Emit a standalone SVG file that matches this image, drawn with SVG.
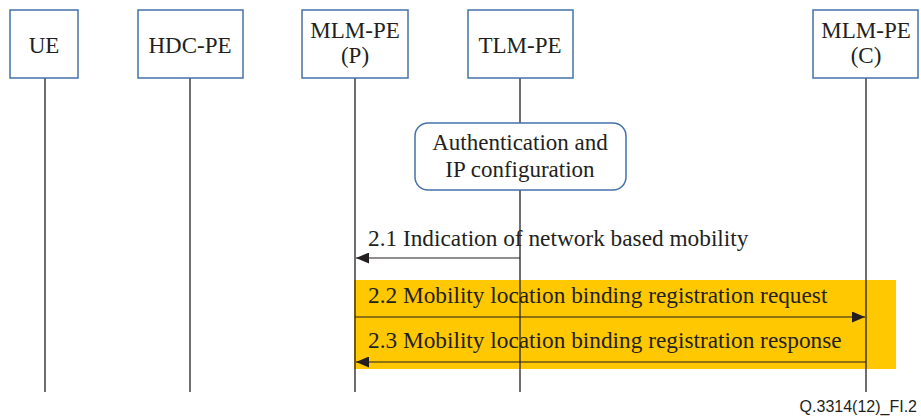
<svg xmlns="http://www.w3.org/2000/svg" width="921" height="417" viewBox="0 0 921 417">
<style>
.box{fill:#fff;stroke:#4672a8;stroke-width:1.5}
.t{font-family:'Liberation Serif','Times New Roman','DejaVu Serif',serif;font-size:23px;fill:#231f20}
.m{font-size:23.3px}
.c{text-anchor:middle}
.life{stroke:#231f20;stroke-width:1.3;fill:none}
.msg{stroke:#231f20;stroke-width:1.2;fill:none}
</style>
<defs>
<marker id="ah" viewBox="0 0 13 11" refX="13" refY="5.5" markerWidth="13" markerHeight="11" markerUnits="userSpaceOnUse" orient="auto">
<path d="M0,0 L13,5.5 L0,11 z" fill="#231f20"/>
</marker>
</defs>
<rect x="354" y="280" width="542" height="89" fill="#ffc800"/>
<g id="lifelines">
<line class="life" x1="45" y1="78" x2="45" y2="392"/>
<line class="life" x1="190" y1="78" x2="190" y2="392"/>
<line class="life" x1="355" y1="78" x2="355" y2="392"/>
<line class="life" x1="520" y1="78" x2="520" y2="392"/>
<line class="life" x1="866" y1="78" x2="866" y2="392"/>
</g>
<g id="ue"><rect class="box" x="10" y="10" width="68" height="68"/><text class="t c" x="44" y="53">UE</text></g>
<g id="hdc"><rect class="box" x="138" y="10" width="105" height="68"/><text class="t c" x="190" y="53">HDC-PE</text></g>
<g id="mlmp"><rect class="box" x="302" y="10" width="106" height="68"/><text class="t c" x="355" y="38">MLM-PE</text><text class="t c" x="355" y="63">(P)</text></g>
<g id="tlm"><rect class="box" x="468" y="10" width="105" height="68"/><text class="t c" x="520" y="53">TLM-PE</text></g>
<g id="mlmc"><rect class="box" x="813" y="10" width="105" height="68"/><text class="t c" x="866" y="38">MLM-PE</text><text class="t c" x="866" y="63">(C)</text></g>
<g id="auth"><rect class="box" x="415" y="123" width="211" height="67" rx="13"/><text class="t c" x="520" y="150">Authentication and</text><text class="t c" x="520" y="177">IP configuration</text></g>
<g id="connectors">
<line class="msg" x1="520" y1="258" x2="356" y2="258" marker-end="url(#ah)"/>
<line class="msg" x1="355" y1="317" x2="865" y2="317" marker-end="url(#ah)"/>
<line class="msg" x1="866" y1="362" x2="356" y2="362" marker-end="url(#ah)"/>
</g>
<text class="t m" x="368" y="246">2.1 Indication of network based mobility</text>
<text class="t m" x="368" y="303">2.2 Mobility location binding registration request</text>
<text class="t m" x="368" y="348">2.3 Mobility location binding registration response</text>
<text x="917" y="412" text-anchor="end" font-family="Liberation Sans, Arial, sans-serif" font-size="16" fill="#231f20">Q.3314(12)_FI.2</text>
</svg>
